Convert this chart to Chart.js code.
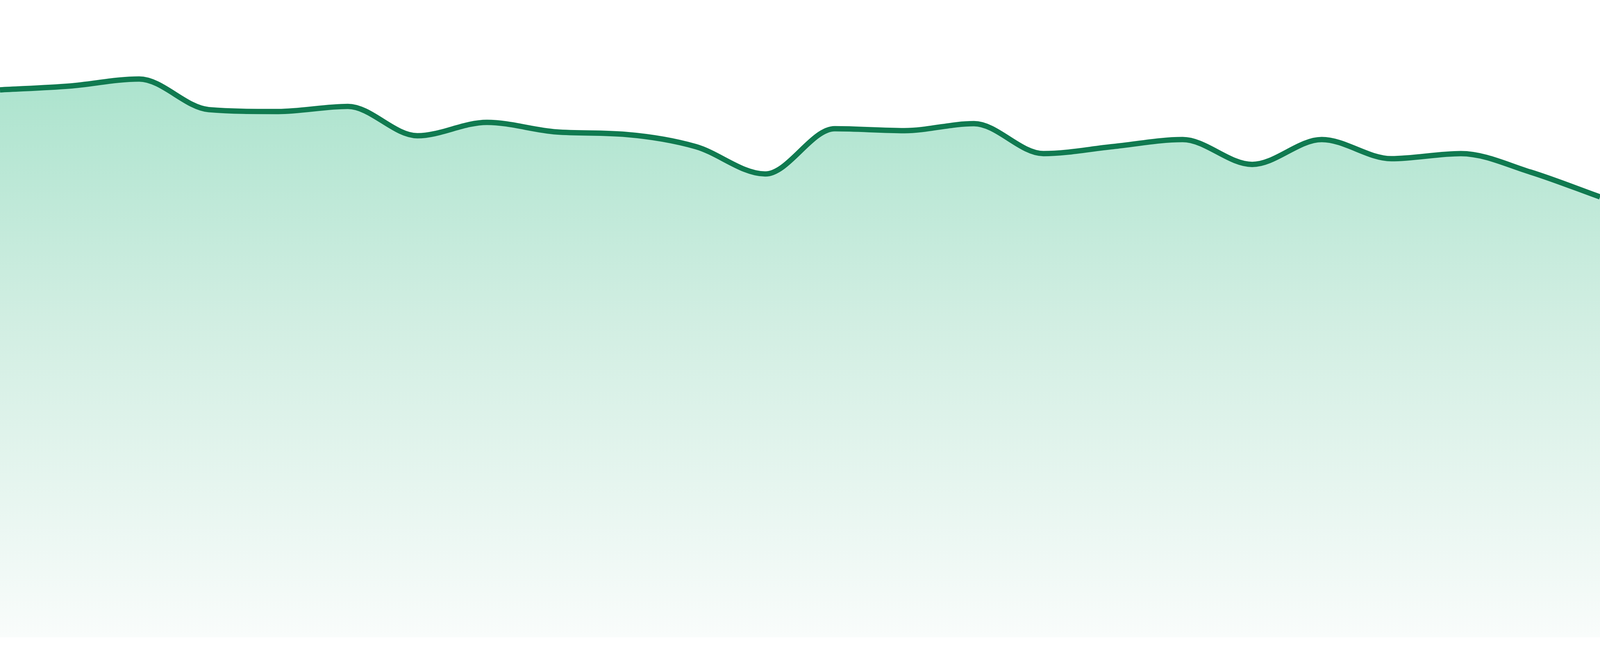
<!DOCTYPE html>
<html>
<head>
<meta charset="utf-8">
<script src="https://cdn.jsdelivr.net/npm/chart.js@4.4.1/dist/chart.umd.min.js"></script>
<style>
  html, body { margin: 0; padding: 0; background: #fff; overflow: hidden; }
  .wrap { width: 100vw; height: 100vh; position: relative; }
</style>
</head>
<body>
<div class="wrap"><canvas id="trendChart"></canvas></div>
<script>
var labels = ["1", "2", "3", "4", "5", "6", "7", "8", "9", "10", "11", "12",
              "13", "14", "15", "16", "17", "18", "19", "20", "21", "22", "23", "24"];
var values = [85.9, 86.5, 87.6, 82.8, 82.5, 83.3, 78.7, 80.8, 79.3, 78.9, 77.0, 72.7,
              79.8, 79.5, 80.6, 75.9, 77.0, 78.1, 74.2, 78.1, 75.1, 75.9, 73.0, 69.1];
var yMin = 0;
var yMax = 100;
var lineColor = "#107a50";

// the design was made for a 4800 x 1680 frame; scale sizes to the real viewport
var unit = window.innerWidth / 4800;
var unitY = window.innerHeight / 1680;

// fill fades from mint at the top to almost white at the bottom
function fillGradient(context) {
  var chart = context.chart;
  var area = chart.chartArea;
  if (!area) return "rgba(177,229,208,0.6)";
  var g = chart.ctx.createLinearGradient(0, area.top, 0, area.bottom);
  g.addColorStop(0, "#a0e0c7");
  g.addColorStop(0.5, "#d1eee2");
  g.addColorStop(1, "#f9fcfb");
  return g;
}

new Chart("trendChart", {
  type: "line",
  data: {
    labels: labels,
    datasets: [{
      data: values,
      borderColor: lineColor,
      borderWidth: 16 * unit,
      backgroundColor: fillGradient,
      fill: "start",
      cubicInterpolationMode: "monotone",
      pointRadius: 0,
      pointHoverRadius: 0
    }]
  },
  options: {
    responsive: true,
    maintainAspectRatio: false,
    animation: false,
    layout: { padding: { top: 0, left: 0, right: 0, bottom: 48 * unitY } },
    plugins: {
      legend: { display: false },
      tooltip: { enabled: false }
    },
    scales: {
      x: { display: false },
      y: { display: false, min: yMin, max: yMax }
    }
  }
});
</script>
</body>
</html>
